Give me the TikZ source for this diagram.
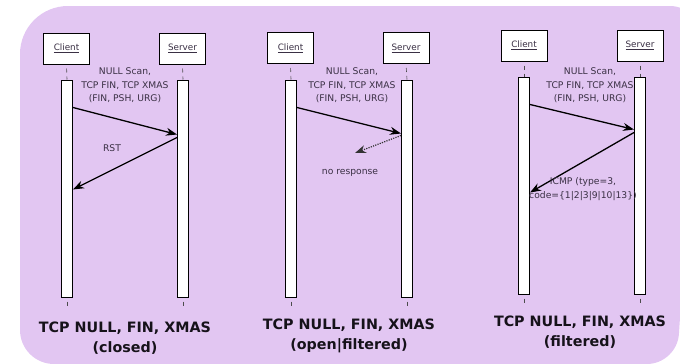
\documentclass[tikz,border=0pt]{standalone}
\usepackage{fontspec}
\setmainfont{DejaVu Sans}
\usetikzlibrary{arrows.meta,calc}
\definecolor{panelbg}{RGB}{226,198,242}
\definecolor{labelgray}{RGB}{58,48,68}
\definecolor{titleblack}{RGB}{22,18,26}
\tikzset{
  actor/.style={draw=black, fill=white, line width=1pt, minimum width=46pt,
    minimum height=31pt, inner sep=0pt, text=labelgray,
    font=\fontsize{8.8}{10}\selectfont},
  bar/.style={draw=black, fill=white, line width=1pt, minimum width=11pt,
    minimum height=217pt, inner sep=0pt},
  lifeline/.style={draw=black!70, line width=0.6pt, dash pattern=on 4pt off 4pt, dash phase=4pt},
  msg/.style={draw=black, line width=1.3pt, -{Stealth[length=11pt,width=8pt]}},
  nomsg/.style={draw=black!80, line width=1.2pt, dash pattern=on 1.2pt off 1.2pt, -{Stealth[length=11pt,width=8pt]}},
  lbl/.style={text=labelgray, align=center, font=\fontsize{9.2}{13.5}\selectfont, inner sep=0pt},
  ttl/.style={text=titleblack, align=center, font=\bfseries\fontsize{14.3}{20}\selectfont, inner sep=0pt}
}
\begin{document}
\begin{tikzpicture}[x=1pt,y=-1pt]
\useasboundingbox (0,0) rectangle (680,364);
% lilac backdrop
\fill[panelbg] (20,60) [rounded corners=48pt] -- (20,6) [rounded corners=30pt] -- (700,6) -- (677,364) [rounded corners=34pt] -- (20,364) [rounded corners=0pt] -- cycle;

% ---------- closed ----------
\node[actor] (c1) at (66.5,48.5) {\underline{Client}};
\node[actor] (s1) at (182.5,48.5) {\underline{Server}};
\node[bar] (c1bar) at (67,188.5) {};
\node[bar] (s1bar) at (183,188.5) {};
\coordinate (c1end) at (67,307);
\coordinate (s1end) at (183,307);
\draw[lifeline] (c1.south) -- (c1bar.north);
\draw[lifeline] (s1.south) -- (s1bar.north);
\draw[lifeline] (c1bar.south) -- (c1end);
\draw[lifeline] (s1bar.south) -- (s1end);
\node[lbl] (q1) at (125,85.5) {NULL Scan,\\TCP FIN, TCP XMAS\\(FIN, PSH, URG)};
\draw[msg] ($(c1bar.north east)+(0,28)$) -- ($(s1bar.north west)+(0,55)$);
\draw[msg] ($(s1bar.north west)+(0,58)$) -- ($(c1bar.north east)+(0,110)$);
\node[lbl] (r1) at (112,148) {RST};
\node[ttl] (t1) at (125,338) {TCP NULL, FIN, XMAS\\(closed)};

% ---------- open|filtered ----------
\node[actor] (c2) at (290.5,48) {\underline{Client}};
\node[actor] (s2) at (406,48) {\underline{Server}};
\node[bar] (c2bar) at (291,188.5) {};
\node[bar] (s2bar) at (407,188.5) {};
\coordinate (c2end) at (291,307);
\coordinate (s2end) at (407,307);
\draw[lifeline] (c2.south) -- (c2bar.north);
\draw[lifeline] (s2.south) -- (s2bar.north);
\draw[lifeline] (c2bar.south) -- (c2end);
\draw[lifeline] (s2bar.south) -- (s2end);
\node[lbl] (q2) at (352,85.5) {NULL Scan,\\TCP FIN, TCP XMAS\\(FIN, PSH, URG)};
\draw[msg] ($(c2bar.north east)+(0,28)$) -- ($(s2bar.north west)+(0,54)$);
\coordinate (lost) at (355,153);
\draw[nomsg] ($(s2bar.north west)+(0,56)$) -- (lost);
\node[lbl] (r2) at (350,173) {no response};
\node[ttl] (t2) at (349,336) {TCP NULL, FIN, XMAS\\(open|filtered)};

% ---------- filtered ----------
\node[actor] (c3) at (524,45.5) {\underline{Client}};
\node[actor] (s3) at (640,45.5) {\underline{Server}};
\node[bar] (c3bar) at (524,185.5) {};
\node[bar] (s3bar) at (640,185.5) {};
\coordinate (c3end) at (524,304);
\coordinate (s3end) at (640,304);
\draw[lifeline] (c3.south) -- (c3bar.north);
\draw[lifeline] (s3.south) -- (s3bar.north);
\draw[lifeline] (c3bar.south) -- (c3end);
\draw[lifeline] (s3bar.south) -- (s3end);
\node[lbl] (q3) at (590,85.5) {NULL Scan,\\TCP FIN, TCP XMAS\\(FIN, PSH, URG)};
\draw[msg] ($(c3bar.north east)+(0,28)$) -- ($(s3bar.north west)+(0,53)$);
\draw[msg] ($(s3bar.north west)+(0,56)$) -- ($(c3bar.north east)+(0,116)$);
\node[lbl] (r3) at (583,189) {ICMP (type=3,\\code=\{1|2|3|9|10|13\})};
\node[ttl] (t3) at (580,332.5) {TCP NULL, FIN, XMAS\\(filtered)};
\end{tikzpicture}
\end{document}
